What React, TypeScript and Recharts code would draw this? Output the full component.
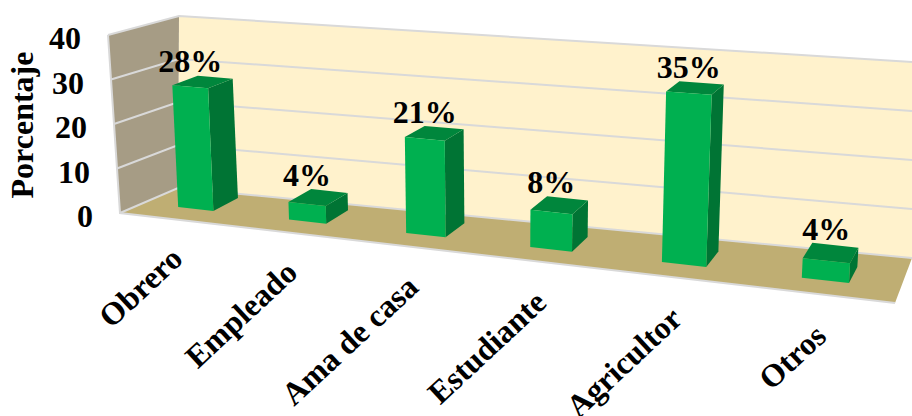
import { BarChart, Bar, XAxis, YAxis, LabelList } from "recharts";

const categories = ["Obrero", "Empleado", "Ama de casa", "Estudiante", "Agricultor", "Otros"];
const percentages = [28, 4, 21, 8, 35, 4];
const yTicks = [0, 10, 20, 30, 40];

const data = categories.map((name, i) => ({ name, value: percentages[i] }));

const WIDTH = 912;
const HEIGHT = 416;
const SERIF = '"Liberation Serif", "Times New Roman", serif';

// flat plot rectangle that recharts lays out; everything is then projected
const LEFT = 95;
const RIGHT = 855;
const TOP = 36;
const BOTTOM = 214;
const BAND = (RIGHT - LEFT) / categories.length;
const FIRST = LEFT + BAND / 2;
const LAST = RIGHT - BAND / 2;

type Pt = [number, number];

// unit square to quad: (0,0) (1,0) (1,1) (0,1)
function homography([p0, p1, p2, p3]: Pt[]) {
  const dx1 = p1[0] - p2[0];
  const dx2 = p3[0] - p2[0];
  const sx = p0[0] - p1[0] + p2[0] - p3[0];
  const dy1 = p1[1] - p2[1];
  const dy2 = p3[1] - p2[1];
  const sy = p0[1] - p1[1] + p2[1] - p3[1];
  const den = dx1 * dy2 - dx2 * dy1;
  const g = (sx * dy2 - dx2 * sy) / den;
  const h = (dx1 * sy - sx * dy1) / den;
  const a = p1[0] - p0[0] + g * p1[0];
  const b = p3[0] - p0[0] + h * p3[0];
  const d = p1[1] - p0[1] + g * p1[1];
  const e = p3[1] - p0[1] + h * p3[1];
  return (u: number, v: number): Pt => {
    const w = g * u + h * v + 1;
    return [(a * u + b * v + p0[0]) / w, (d * u + e * v + p0[1]) / w];
  };
}

// front and rear planes of the columns, u runs first to last column centre, v runs 0 to 40
const frontPlane = homography([[195.5, 209], [825, 280.4], [835, 78], [187.5, 33]]);
const rearPlane = homography([[220.5, 196], [834, 264.4], [844, 68], [212.5, 25]]);

const toU = (x: number) => (x - FIRST) / (LAST - FIRST);
const toV = (y: number) => (BOTTOM - y) / (BOTTOM - TOP);
const poly = (pts: Pt[]) => pts.map((p) => p.join(",")).join(" ");
const lerp = (a: Pt, b: Pt, t: number): Pt => [a[0] + (b[0] - a[0]) * t, a[1] + (b[1] - a[1]) * t];

// room corners
const wallTopLeft: Pt = [179, 16];
const wallTopRight: Pt = [912, 62];
const wallBaseLeft: Pt = [178, 188];
const wallBaseRight: Pt = [912, 258];
const sideTop: Pt = [108, 35];
const sideBase: Pt = [120, 213];
const floorFront: Pt = [895, 303];

function Room() {
  const lineColor = "#d9d9d9";
  return (
    <g>
      <polygon points={poly([wallTopLeft, wallTopRight, wallBaseRight, wallBaseLeft])} fill="#fff2cc" />
      <polygon points={poly([sideTop, wallTopLeft, wallBaseLeft, sideBase])} fill="#a69c85" />
      <polygon points={poly([sideBase, wallBaseLeft, wallBaseRight, floorFront])} fill="#bfae73" />
      {yTicks.map((t) => {
        const k = t / 40;
        const side = lerp(sideBase, sideTop, k);
        const corner = lerp(wallBaseLeft, wallTopLeft, k);
        const end = lerp(wallBaseRight, wallTopRight, k);
        return <polyline key={t} points={poly([side, corner, end])} fill="none" stroke={lineColor} strokeWidth={2} />;
      })}
      <polyline points={poly([sideTop, sideBase, floorFront])} fill="none" stroke={lineColor} strokeWidth={2} />
    </g>
  );
}

function Column(props: any) {
  const { x, y, width, height } = props;
  const u0 = toU(x);
  const u1 = toU(x + width);
  const top = toV(y);
  const base = toV(y + height);
  const fTL = frontPlane(u0, top);
  const fTR = frontPlane(u1, top);
  const fBL = frontPlane(u0, base);
  const fBR = frontPlane(u1, base);
  const rTL = rearPlane(u0, top);
  const rTR = rearPlane(u1, top);
  const rBR = rearPlane(u1, base);
  return (
    <g>
      <polygon points={poly([fTR, rTR, rBR, fBR])} fill="#007434" />
      <polygon points={poly([fTL, fTR, rTR, rTL])} fill="#00863c" />
      <polygon points={poly([fTL, fTR, fBR, fBL])} fill="#00b050" />
    </g>
  );
}

function ValueLabel(props: any) {
  const { x, y, width, value } = props;
  const u = toU(x + width / 2);
  const v = toV(y);
  const front = frontPlane(u, v);
  const rear = rearPlane(u, v);
  return (
    <text x={front[0]} y={rear[1] - 5} textAnchor="middle" fontFamily={SERIF} fontWeight={700} fontSize={32} fill="#000">
      {value}%
    </text>
  );
}

function CategoryTick(props: any) {
  const { x, payload } = props;
  const u = toU(x);
  const [px, py] = frontPlane(u, 0);
  // labels drift right and down along the floor edge
  const tx = px - 11 + 14 * u;
  const ty = py + 52 + 6 * u;
  return (
    <text
      x={tx}
      y={ty}
      textAnchor="end"
      transform={`rotate(-43 ${tx} ${ty})`}
      fontFamily={SERIF}
      fontWeight={700}
      fontSize={32}
      fill="#000"
    >
      {payload.value}
    </text>
  );
}

// the numbers step along the slanted edge of the side wall
function ValueTick(props: any) {
  const { y, payload } = props;
  const [ex, ey] = lerp(sideBase, sideTop, toV(y));
  return (
    <text x={ex - 27} y={ey + 3.5} dy="0.34em" textAnchor="end" fontFamily={SERIF} fontWeight={700} fontSize={32} fill="#000">
      {payload.value}
    </text>
  );
}

export default function App() {
  return (
    <div style={{ position: "absolute", left: 0, top: 0, width: WIDTH, height: HEIGHT, overflow: "hidden", background: "#fff" }}>
      <BarChart
        width={WIDTH}
        height={HEIGHT}
        data={data}
        barCategoryGap="34%"
        margin={{ top: TOP, right: WIDTH - RIGHT, bottom: HEIGHT - BOTTOM - 40, left: LEFT - 60 }}
      >
        <Room />
        <XAxis dataKey="name" height={40} axisLine={false} tickLine={false} interval={0} tick={CategoryTick} />
        <YAxis
          width={60}
          domain={[0, 40]}
          ticks={yTicks}
          axisLine={false}
          tickLine={false}
          tickMargin={0}
          tickSize={0}
          tick={ValueTick}
          label={{
            value: "Porcentaje",
            angle: -90,
            position: "insideLeft",
            offset: -13,
            fill: "#000",
            fontFamily: SERIF,
            fontWeight: 700,
            fontSize: 32,
            style: { textAnchor: "middle" },
          }}
        />
        <Bar dataKey="value" isAnimationActive={false} shape={Column}>
          <LabelList dataKey="value" content={ValueLabel} />
        </Bar>
      </BarChart>
    </div>
  );
}
